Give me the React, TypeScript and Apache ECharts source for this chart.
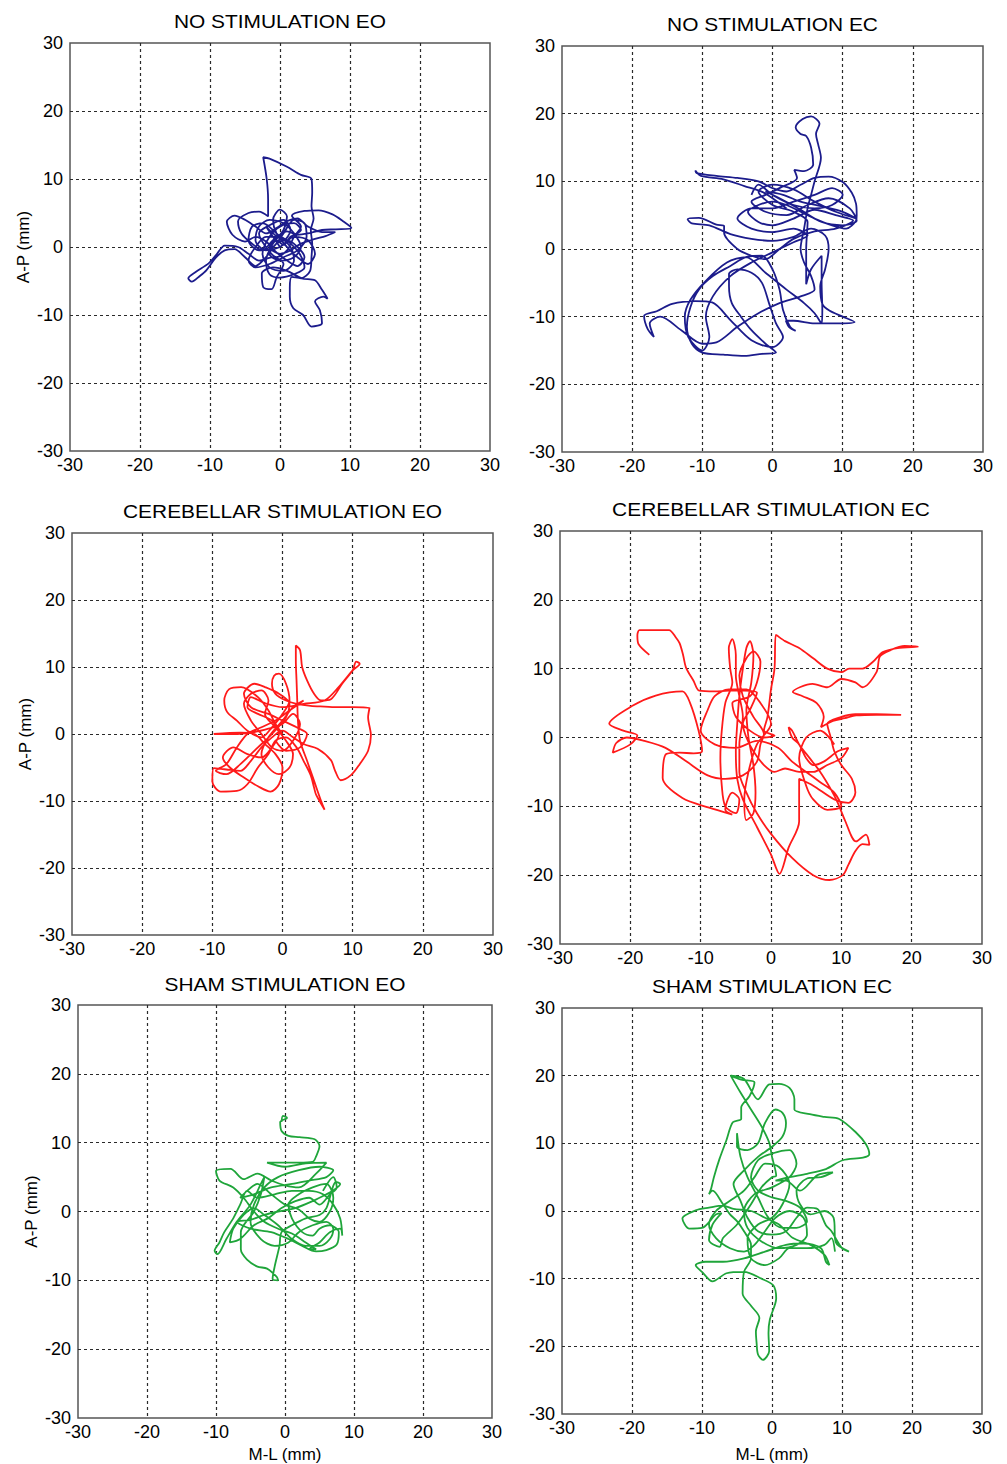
import React, { useEffect, useRef } from "react";
import * as echarts from "echarts";

type Pt = [number, number];

// Axis range shared by every panel (mm)
const AXIS_MIN = -30;
const AXIS_MAX = 30;
const AXIS_STEP = 10;

const PANEL_TITLES = [
  "NO STIMULATION EO",
  "NO STIMULATION EC",
  "CEREBELLAR STIMULATION EO",
  "CEREBELLAR STIMULATION EC",
  "SHAM STIMULATION EO",
  "SHAM STIMULATION EC",
];

const Y_AXIS_NAME = "A-P (mm)";
const X_AXIS_NAME = "M-L (mm)";

// Centre-of-pressure trajectories [M-L, A-P] in mm
const noStimEO: Pt[] = [
  [0, 0], [-1, 1.5], [-2, 3], [-1, 2], [0.5, 1], [1.5, 2.5], [0.5, 4], [-1.5, 3.2], [-3, 2], [-2, 0],
  [-0.5, -1.5], [1, -0.5], [2, 1.5], [3, 3], [1.7, 4.6], [3.5, 5.3], [5.5, 5.4], [7.5, 4.8], [9, 3.8], [10.2, 2.8],
  [8, 2.6], [6, 2.5], [4, 2], [2.5, 1.8], [1, 2.3], [-1, 1], [-2.5, -0.5], [-4, 0.5], [-5.5, 2], [-6, 3.8],
  [-4.5, 5], [-3, 5.2], [-1.7, 4.5], [-1.7, 7], [-1.9, 10], [-2.4, 13.2], [-1.5, 13], [1, 11.8], [3, 10.6], [4.5, 10],
  [4.6, 8], [4.5, 6], [4.8, 4.2], [4.4, 2.5], [4.6, 0.5], [4.5, -1.5], [4.3, -3.5], [3, -4.6], [1.7, -4.4], [1.4, -6],
  [1.4, -7.3], [1.9, -9], [3.3, -10], [4.5, -11.7], [6, -11.2], [5.7, -9.3], [5, -8], [6.2, -7.3], [6.8, -7.6], [6, -6.3],
  [5, -4.9], [3.1, -4.6], [1, -3.5], [-1, -3], [-2.6, -3.9], [-2.4, -5.9], [-1.2, -6.2], [-0.5, -4.5], [0.5, -2.5], [-1, -1.5],
  [-3, -2], [-4.5, -1], [-6, 0], [-7.9, 0.2], [-9, -1], [-10.2, -2.4], [-12.1, -3.7], [-13.1, -4.6], [-12.6, -5.1], [-11.5, -4.3],
  [-10.5, -3.4], [-9.2, -1.6], [-7.9, -0.5], [-6.5, -0.3], [-5, -1.5], [-3.5, -2.8], [-2, -1.5], [-0.5, 0.5], [1, 1], [2.5, 0],
  [3.5, -1.5], [2.5, -2.8], [1, -2], [-0.5, -0.8], [-2, 0.8], [-3.5, 1.5], [-5, 0.8], [-6.8, 1.8], [-7.6, 3.7], [-6.5, 4.6],
  [-5, 4], [-3.5, 3], [-2, 2], [-0.5, 2.8], [1, 3.8], [2.5, 4.2], [4, 3], [6, 2.2], [7.9, 2.2], [6.5, 1.6],
  [5, 1.2], [3, 0.5], [1.5, -0.5], [0, -1], [-1.5, 0], [-0.5, 1], [0.5, 0.3], [1.5, 1.5], [3, 2.5], [2, 3.5],
  [0, 3], [-1.5, 1.5], [-2.5, -1], [-1.5, -3], [0.5, -3.5], [2, -2], [1.5, 0], [-0.5, 2], [-2.5, 3.5], [-4, 3],
  [-4.5, 1], [-3, -0.5], [-1, 0], [0.5, 2], [2, 4], [3.5, 3.5], [3.8, 1.5], [2.5, -0.5], [0.5, -1.5], [-1.5, -2.5],
  [-3.5, -3], [-4.5, -2], [-3.5, 0], [-2, 1.5], [0, 1.5], [1.5, 0.5], [2.8, -1], [3.5, -3], [2, -4], [0, -4.5],
  [-1.5, -4], [-2, -2], [-1, 0.5], [0.5, 2.5], [1, 4.5], [0, 5.5], [-1, 4], [-0.5, 2], [1, 0], [2.5, -1.5],
  [4, -2.5], [5, -1], [4, 1], [2, 1.5], [0, 0], [-2, -0.5], [-3.5, 1], [-3, 3], [-1.5, 4], [0.5, 3.5],
  [2, 2], [3, 0], [2, -1.5], [0, -2], [-1.5, -1], [-1, 1],
];

const noStimEC: Pt[] = [
  [2, 6], [0, 7.5], [-1.4, 8.4], [-4, 9.3], [-7, 10.3], [-10.2, 10.8], [-11, 11.6], [-10.8, 11.2], [-8, 10.8], [-5, 10.5],
  [-2, 10], [0, 9], [2, 8.5], [4, 9.5], [6, 10.5], [8, 10.7], [10, 9.9], [11.3, 8.3], [11.9, 6.7], [12, 5],
  [11.9, 4.2], [10.5, 3], [8.5, 3.5], [6, 4.5], [4, 5.5], [2, 6.5], [0, 7], [-2, 6.5], [-3.5, 5.5], [-2, 4],
  [0, 3.5], [3, 4.5], [6, 5.8], [9, 5], [11.5, 4.2], [9, 3], [6, 2.6], [3, 1.5], [1, 0], [-1, -1.5],
  [-3, -1], [-5, 0], [-6.9, 2.4], [-6.9, 3.4], [-8, 3.6], [-10.5, 4.6], [-12.1, 4.4], [-11.5, 3.8], [-9, 3.5], [-6, 2.2],
  [-3, 1.5], [0, 1.2], [3, 1.8], [5.5, 3], [7.5, 2], [8, 0], [7.5, -3], [6.8, -5.5], [7.1, -8.1], [8.1, -9.1],
  [10, -10], [11.7, -10.8], [9.5, -11], [6, -11], [3, -10.6], [1.9, -10.6], [2.4, -11.6], [3.3, -12.1], [2.5, -11.5], [1.5, -9],
  [1, -6], [0, -3], [-1.5, -1], [-3.8, -1.2], [-6, -2.5], [-8.5, -4], [-10.5, -6], [-11.7, -8.6], [-12.2, -11.5], [-11.5, -14],
  [-10, -15.3], [-7, -15.6], [-4, -15.8], [-1.5, -15.5], [0.5, -15.3], [-1, -14], [-3, -12], [-4.5, -10], [-5.8, -8], [-6.2, -5.5],
  [-6.2, -3.7], [-5, -3], [-3, -3.5], [-1.5, -5], [-0.5, -8], [0.5, -11], [1.5, -13], [0, -14.5], [-3, -13.5], [-6, -10.5],
  [-8.6, -7.9], [-11, -7.7], [-14.3, -8.1], [-16.5, -9.2], [-18.3, -9.9], [-17.8, -11.8], [-16.9, -13], [-17.5, -11], [-16, -10], [-13, -12],
  [-10, -14], [-8, -13.8], [-5, -11.5], [-2, -9.5], [1, -8], [4, -7], [6, -6], [5.5, -4], [4.5, -2], [4, 0],
  [4.5, 3], [5, 6], [5.5, 8], [6, 10], [6.9, 13.5], [6.5, 15.5], [6.2, 17], [6.7, 18.5], [5.5, 19.6], [4.3, 19.2],
  [3.3, 18], [4, 17], [4.8, 16.7], [5.5, 15], [5.8, 12.5], [4.5, 11.5], [3.1, 11.7], [3.5, 10.5], [1, 9], [-1, 8],
  [-3, 7], [-1, 5.5], [2, 5], [5, 6.5], [8, 7.5], [11, 6], [12, 4.2], [10, 3.5], [7, 4], [4, 5.8],
  [1, 7.5], [-1, 8.5], [1.5, 8], [4, 7], [7.5, 6.2], [10, 5.5], [12, 4.5], [9, 5.5], [6, 7], [3, 8.8],
  [0, 9.5], [-2, 8.5], [0, 6.5], [3, 5.5], [5, 4], [4.8, 0], [4.8, -3], [4.8, -5.2], [5.5, -3], [7, -1],
  [7, -5], [7.1, -9], [7, -11], [6, -9.5], [4.5, -8], [2, -6], [-1, -3.5], [-3.8, -1.2], [-6.5, -2], [-9.5, -4.7],
  [-11.7, -7.5], [-12.5, -10], [-12, -13], [-10, -15], [-9, -13], [-9.5, -10], [-8.5, -7], [-6, -4], [-3, -2], [0, -0.5],
  [3, 1], [5, 2], [3, 3], [0, 2.5], [-3, 3], [-5, 4.5], [-3, 6], [0, 6], [3, 7], [6, 8],
  [8.5, 9], [10, 8], [8.5, 6.5], [6, 6], [3, 6.5], [0, 8], [-2, 9.5], [-3, 8],
];

const cerebEO: Pt[] = [
  [0, 0], [-1, 1.5], [-2, 3.5], [-3.5, 5.5], [-5.9, 7], [-7.6, 6.7], [-8.3, 5], [-7.9, 3.3], [-6.5, 2], [-5, 0.5],
  [-3, -0.5], [-1.5, 1], [0, 3], [1, 5], [0.5, 7.5], [-0.5, 9], [-1.2, 8.7], [-1.5, 7.5], [-1, 6], [0.5, 5],
  [2, 4.5], [4, 4.2], [6, 4.1], [8, 4], [10, 4], [12.4, 3.9], [12.2, 2.5], [12.6, -0.2], [12.2, -2.5], [11, -4.5],
  [9.8, -6.1], [8.3, -6.9], [7.5, -5.5], [6.9, -3.9], [5, -2.2], [3, -1.5], [1.5, -0.5], [0, 0.5], [-1.5, -0.5], [-3, -2],
  [-4.5, -4], [-6, -5.5], [-8, -5.3], [-9.8, -5.1], [-10, -7.1], [-8.8, -8.6], [-6.5, -8.5], [-5, -7.5], [-3.5, -5], [-2, -3],
  [-1, -1], [0.5, -0.5], [2, -2], [3, -4], [4, -6.1], [4.5, -8], [4.8, -9.1], [6, -11.3], [5.5, -10], [4.5, -7],
  [3.5, -4], [2.5, -1], [2.2, 2], [2.1, 5], [2, 8], [1.9, 11], [1.9, 13.2], [2.5, 12.5], [2.8, 10], [3.5, 8],
  [4.5, 6], [5.5, 5], [6.9, 5.2], [8.5, 7.5], [10, 9.5], [10.5, 10.8], [11, 10.5], [10, 9.5], [8, 7], [6, 5],
  [3, 4.5], [0, 4], [-2.5, 4.6], [-4.5, 5.5], [-5, 4], [-3.5, 3], [-1.5, 2], [-0.5, 0], [-1.5, -2], [-3, -3.5],
  [-5, -3], [-7, -2], [-8.5, -3.5], [-7.5, -5], [-5.5, -6.5], [-3.5, -7.8], [-1.7, -8.6], [-0.5, -7.5], [0, -5], [-1, -3],
  [-2.5, -1.5], [-4, 0], [-6, 0.2], [-9.8, 0], [-7, 0], [-4, 0.3], [-2, 0.8], [0, 1.5], [1.5, 3], [2.5, 1.5],
  [1.5, -1], [0, -2.5], [-1.5, -2], [-3, 0], [-4.5, 2], [-5.5, 4.5], [-4.5, 6], [-3, 6.5], [-2, 5], [-2.5, 3],
  [-1, 1], [0.5, -1], [1.5, -3], [1, -5], [-0.5, -6], [-2, -5], [-3, -3], [-2, -0.5], [0, 2], [1.5, 4],
  [3, 5], [1, 3.5], [-1, 2], [-3, 1], [-5, 0], [-6.5, -2], [-8, -4.5], [-9.5, -5.5], [-8, -6], [-6, -4.5],
  [-3.5, -2], [-1.5, 0], [0.5, 2.5], [1, 4.5], [-0.5, 6], [-2.5, 7], [-4, 7.5], [-5.5, 6], [-4.5, 4], [-2, 3],
  [0, 2], [2, 1], [3.5, 0], [2.5, -2], [0.5, -2.5], [-1, -1],
];

const cerebEC: Pt[] = [
  [-17.3, 12], [-18.8, 13.5], [-19, 14.8], [-18.7, 15.6], [-16.5, 15.6], [-14.5, 15.6], [-13.5, 14.5], [-13, 13.7], [-12.5, 12], [-12.1, 10.2],
  [-11, 8.2], [-10.2, 6.8], [-8, 6.7], [-6, 6.8], [-4, 6.8], [-2, 6.5], [-3, 4], [-4, 2], [-3.5, 0], [-2.5, -2],
  [-1, -4], [0.5, -5], [2, -4.5], [4, -5], [6, -5], [8, -4], [10, -3], [11, -1.5], [9.5, -2], [7.5, -3.5],
  [6, -4], [5, -3], [4, -1], [3, 0], [2.5, 1.5], [3, 1], [4, -1], [5.5, -3], [7, -5], [8.5, -7.5],
  [9.5, -9.5], [10.5, -12], [12.1, -15.1], [13.5, -14.1], [14, -15.6], [13, -15.5], [12, -16.5], [11, -18.5], [10.2, -20], [8.3, -20.7],
  [6, -20], [3, -17.5], [0, -14], [-2, -11], [-3.5, -8], [-4.5, -5], [-4.5, -1], [-4, 3], [-4.5, 6], [-5, 9],
  [-5, 12], [-5.5, 14.3], [-6, 13], [-5.8, 10], [-5.5, 8], [-6.5, 5], [-7, 1], [-7.2, -3], [-7, -7], [-6.5, -10],
  [-5, -11], [-4.5, -9], [-5.5, -8], [-6.5, -10.5], [-5.5, -11.2], [-8.8, -10.2], [-12.6, -8.8], [-15.4, -5.9], [-14.9, -2.4], [-13, -2.2],
  [-11, -2.3], [-9.8, -2], [-10.3, 1], [-11.5, 5], [-12.6, 6.7], [-16.4, 6.1], [-19.7, 4.6], [-23, 2], [-21, 1], [-19, 0.3],
  [-20, -1], [-22.5, -2.2], [-22, -0.8], [-20.5, 0], [-18, -0.5], [-15, -1.5], [-12, -3.5], [-9, -5.5], [-6.5, -6], [-4, -5.5],
  [-2, -3.5], [-1.5, -1], [-1, 0.5], [-2.5, 3], [-4, 6], [-4.5, 9], [-3.5, 11.5], [-2.5, 12.5], [-1.5, 11], [-2, 8],
  [-3, 6], [-5.5, 5], [-5, 3], [-3, 1], [-1, 0], [0.5, 0.3], [-1, 1], [-0.5, 3], [0, 7], [0.5, 10],
  [0.7, 14.9], [2, 14], [4, 13], [6, 11.5], [8, 10], [10, 9.5], [11.1, 10], [13, 10], [14.5, 11], [15.9, 12.4],
  [18, 13], [20.9, 13.2], [19, 13.3], [17, 12.7], [15.5, 11.8], [15, 9.5], [13, 7.3], [12, 8], [10, 8.5], [8, 7.3],
  [5.9, 7.8], [3.1, 6.6], [4.5, 6], [6.5, 5], [7.5, 3], [7.1, 1.5], [8.8, 2.4], [10.5, 2.8], [12.1, 3.2], [15, 3.3],
  [18.5, 3.3], [15, 3.4], [12, 3.4], [10, 3], [8, 2], [8.5, 0], [9, -2], [10, -4], [11.5, -6], [12, -8],
  [11, -9.5], [9, -9], [6, -7], [4, -6], [4, -12.2], [2.5, -16], [1.2, -19.8], [0, -17], [-2, -13], [-4, -9],
  [-4.8, -6], [-5, -2], [-4.8, 2], [-4.5, 6], [-4, 10], [-3.5, 13], [-3, 14], [-2.5, 12], [-2.8, 8], [-3.5, 4],
  [-3.2, 0], [-2.5, -4], [-2.2, -8], [-2.5, -11], [-3.5, -12], [-3.8, -9], [-3.2, -5], [-2, -1], [0, 2], [-1.5, 5],
  [-3.5, 7], [-6, 7], [-8, 6], [-9, 4], [-10, 1], [-8, -1], [-5, -1.5], [-2, -0.5], [1, -1.5], [3, -3.5],
  [5, -5], [7, -6.5], [9, -8], [10, -10], [8, -10.5], [6, -9], [5, -7], [4, -3], [5, 0], [7, 1],
  [9, -1],
];

const shamEO: Pt[] = [
  [-0.5, 13], [-0.3, 13.9], [0.3, 13.6], [-0.7, 13], [-0.5, 11.7], [0.5, 11], [2.1, 10.8], [4.3, 10.5], [5, 9.5], [4.5, 8],
  [4, 7.2], [2, 7.1], [0, 7.1], [-2.6, 7.1], [0, 6.5], [3, 7], [6, 7.1], [4.5, 5.5], [2, 3.5], [0, 3.8],
  [-2, 4.5], [-4, 5.5], [-6, 4.7], [-7.9, 6.2], [-10, 5.9], [-9.5, 4.5], [-7.5, 3.5], [-6, 2], [-4.5, 0], [-3, -1.5],
  [-1, -2.5], [1, -3.2], [3, -4.5], [4.5, -5.5], [3.6, -5.4], [5, -4.5], [6.5, -3], [8, -2.5], [8.3, -3.5], [8, -1],
  [7, 1], [5.5, 2.5], [3.5, 3], [1, 3], [-1.5, 2.5], [-4, 2], [-5.5, 3], [-6.5, 1], [-7.5, -1], [-8.8, -3],
  [-9.5, -4.5], [-10.2, -5.7], [-9.8, -6.2], [-8.5, -4], [-7, -1.5], [-5, 1], [-3.5, 4], [-3, 5], [-3.5, 2.5], [-4.5, 0],
  [-6.4, -3], [-6.4, -5.5], [-5.5, -7], [-4, -8], [-2.6, -8.3], [-1.2, -9.5], [-1, -10], [-1.8, -9.8], [-1.5, -8], [-0.8, -5],
  [-0.5, -3], [1, -2], [3, -1], [5, -0.5], [6, 0.5], [7.4, 4.3], [8, 4], [7.2, 3.2], [6, 2.5], [4, 1.5],
  [1.5, 0.5], [-1, 0], [-3, -0.5], [-5, -1.2], [-7, -1.5], [-5, -2.5], [-2, -3], [0.5, -4], [2.5, -5], [4.5, -5.8],
  [6, -5.6], [7.5, -4.8], [7.8, -3], [6.5, -2], [5, -2.5], [4, -3.5], [2.5, -3], [1, -1], [0.5, 1], [2, 2.5],
  [4, 3.5], [6, 4], [7, 2], [6.5, 0], [5, -1.5], [3.5, -1], [2, 0.3], [0, 1], [-2, 2.5], [-4, 4],
  [-5.5, 3], [-6.5, 2], [-4.5, 2.5], [-2, 3.5], [1, 4], [3.5, 4.5], [6, 5], [7, 6], [5, 6.5], [2, 6],
  [-1, 5], [-3, 3.5], [-4.5, 1], [-5, -1.5], [-3.5, -4], [-1.5, -5], [0.5, -4.5], [2, -3], [4, -2], [6, -1.5],
  [7, -2.5], [6.5, -4], [5, -5], [3, -5], [1, -4], [-1, -2], [-3, -0.5], [-4.5, 0.5], [-6, -0.5], [-7.5, -2.5],
  [-8, -4.5], [-6.5, -4], [-4.5, -2], [-2.5, -1], [-0.5, 0.5], [1.5, 1.5], [3.5, 2], [5, 1], [6.5, 2.5], [7.5, 3.5],
  [7, 5], [5.5, 3],
];

const shamEC: Pt[] = [
  [-5.9, 20], [-4.4, 19.4], [-2.5, 19], [-3.2, 17], [-4.4, 15.3], [-4.4, 13.6], [-5.6, 13.1], [-6.5, 10.5], [-7.5, 7.7], [-8.3, 5],
  [-8.7, 3.3], [-9, 2.5], [-8.5, 3], [-7, 1], [-6, -0.5], [-5, -1.5], [-4, -3], [-3, -5], [-3, -7], [-4, -9],
  [-4.2, -12.2], [-3, -14], [-1.8, -15.8], [-2.3, -17.8], [-2.2, -19.5], [-2, -21.2], [-1.3, -22], [-0.4, -20.7], [-0.5, -18], [-0.3, -16],
  [0.6, -12.9], [0.2, -11], [-1.5, -10], [-4, -9], [-6.5, -9.2], [-8.5, -10.4], [-10, -9], [-10.9, -8], [-9.5, -7.5], [-7, -7.5],
  [-4, -7], [-1, -6], [2, -5], [4.5, -4.8], [7, -5.5], [7.7, -7.5], [8.2, -8], [7.5, -6.5], [5.5, -5], [3, -4],
  [1, -2], [-1, -1], [-3, 0], [-5.5, 0.3], [-7, 0.8], [-9, 0.5], [-10.9, 0.1], [-12.8, -1.1], [-11.8, -2.6], [-10, -2.5],
  [-8, -0.5], [-7.2, -0.3], [-8.5, -2], [-9, -4.3], [-7.5, -5.3], [-7, -4], [-5, -2], [-3, 1], [-1.5, 3.5], [0, 5],
  [0.6, 5.2], [0, 8], [-0.4, 10.1], [-1.5, 12.5], [-3, 15], [-4.5, 17.5], [-5.9, 20], [-4, 19.5], [-2, 16.5], [-0.4, 18.7],
  [1, 18.8], [2.5, 18.2], [3.2, 16.5], [3.2, 15], [5.4, 14.3], [7.5, 13.9], [9.6, 13.6], [12, 11.6], [13.4, 9.9], [13.9, 8.4],
  [13, 7.9], [10.1, 7.5], [7.7, 6.2], [5, 5.5], [2.5, 5], [0.5, 4.5], [2, 4.5], [4, 3], [6.5, 5.3], [8.7, 5.7],
  [7, 5], [5, 4.8], [3.5, 3], [4, 1], [5.5, -0.5], [7.5, 0], [8.8, -1], [9.1, -4.6], [11, -6], [10, -5.5],
  [8.5, -3], [7.7, -2.1], [6.5, 0.3], [5, 0.5], [3.5, -1], [2, -3], [0, -3.5], [-2, -3], [-3.5, -1], [-4.5, 1.5],
  [-5.5, 4], [-4, 6], [-2, 8], [0, 9.5], [1.5, 11], [2, 13], [1.5, 14.5], [0.5, 15], [-1, 13], [-2, 10],
  [-3.5, 9], [-5, 9.5], [-5, 11.5], [-4.5, 8], [-3.5, 5], [-2, 2], [-0.5, -1], [1.5, -2.5], [3.5, -2.5], [5, -1.5],
  [4, 0.5], [2, 1.5], [0, 2], [-2, 3], [-3, 5], [-2, 7.5], [0, 8.5], [2.5, 9], [3.5, 7], [2.5, 5],
  [0, 3.5], [-2.5, 2.5], [-4, 0], [-3.5, -2.5], [-1.5, -4.5], [1, -5.5], [3.5, -5], [5, -3.5], [4.5, -1], [2.5, 0],
  [0.5, -1], [-1, -3], [-2.5, -5], [-4, -6], [-6, -5.5], [-8, -4], [-9, -2], [-8, 0], [-6, 1.5], [-4, 3],
  [-2.5, 5], [-1, 7], [1, 6.5], [2.5, 4], [1.5, 1], [0, -1], [-2, -2], [-3.5, -4], [-3, -7], [-1, -8],
  [1, -7], [2.5, -5.5], [5, -5.5], [7.5, -5], [8.5, -4], [9, -6],
];

const TRACES = [noStimEO, noStimEC, cerebEO, cerebEC, shamEO, shamEC];

const TRACE_COLORS = ["#1c1c8c", "#1c1c8c", "#ff1a1a", "#ff1a1a", "#1fa53a", "#1fa53a"];

// Plot frames in page pixels: left, top, width, height
const FRAMES = [
  { left: 70, top: 43, width: 420, height: 408 },
  { left: 562, top: 46, width: 421, height: 406 },
  { left: 72, top: 533, width: 421, height: 402 },
  { left: 560, top: 531, width: 422, height: 413 },
  { left: 78, top: 1005, width: 414, height: 413 },
  { left: 562, top: 1008, width: 420, height: 406 },
];

const TITLE_Y = [21, 24, 511, 509, 984, 986];
const X_NAME_GAP = [28, 28, 28, 28, 28, 32];

const FONT = "'Liberation Sans', Arial, Helvetica, sans-serif";

export default function App() {
  const ref = useRef<HTMLDivElement>(null);

  useEffect(() => {
    if (!ref.current) return;
    const chart = echarts.init(ref.current, undefined, { renderer: "svg" });

    const grid = FRAMES.map((f) => ({
      left: f.left,
      top: f.top,
      width: f.width,
      height: f.height,
      show: true,
      borderColor: "#555",
      borderWidth: 1.5,
      backgroundColor: "#fff",
      containLabel: false,
    }));

    const splitLine = {
      show: true,
      showMinLine: false,
      showMaxLine: false,
      lineStyle: { color: "#2a2a2a", width: 1.2, type: [3, 3] as number[] },
    };

    const xAxis = FRAMES.map((_, i) => ({
      type: "value" as const,
      gridIndex: i,
      min: AXIS_MIN,
      max: AXIS_MAX,
      interval: AXIS_STEP,
      axisLine: { show: false },
      axisTick: { show: false },
      axisLabel: { color: "#000", fontSize: 18, fontFamily: FONT, margin: 5 },
      splitLine,
      name: i >= 4 ? X_AXIS_NAME : "",
      nameLocation: "middle" as const,
      nameGap: X_NAME_GAP[i],
      nameTextStyle: { color: "#000", fontSize: 17, fontFamily: FONT },
    }));

    const yAxis = FRAMES.map((_, i) => ({
      type: "value" as const,
      gridIndex: i,
      min: AXIS_MIN,
      max: AXIS_MAX,
      interval: AXIS_STEP,
      axisLine: { show: false },
      axisTick: { show: false },
      axisLabel: { color: "#000", fontSize: 18, fontFamily: FONT, margin: 7 },
      splitLine,
      name: i % 2 === 0 ? Y_AXIS_NAME : "",
      nameLocation: "middle" as const,
      nameGap: 38,
      nameRotate: 90,
      nameTextStyle: { color: "#000", fontSize: 17, fontFamily: FONT },
    }));

    const series = TRACES.map((data, i) => ({
      type: "line" as const,
      xAxisIndex: i,
      yAxisIndex: i,
      data,
      showSymbol: false,
      smooth: 0.3,
      clip: true,
      lineStyle: { color: TRACE_COLORS[i], width: 1.8 },
      z: 3,
    }));

    const titles = PANEL_TITLES.map((text, i) => ({
      type: "text" as const,
      x: FRAMES[i].left + FRAMES[i].width / 2,
      y: TITLE_Y[i],
      scaleX: 1.1,
      style: {
        text,
        fill: "#000",
        fontSize: 19,
        fontFamily: FONT,
        align: "center",
        verticalAlign: "middle",
      },
    }));

    chart.setOption({
      animation: false,
      backgroundColor: "#fff",
      grid,
      xAxis,
      yAxis,
      series,
      graphic: titles,
    });

    return () => chart.dispose();
  }, []);

  return (
    <div
      ref={ref}
      style={{ position: "absolute", left: 0, top: 0, width: 1007, height: 1464, background: "#fff" }}
    />
  );
}
